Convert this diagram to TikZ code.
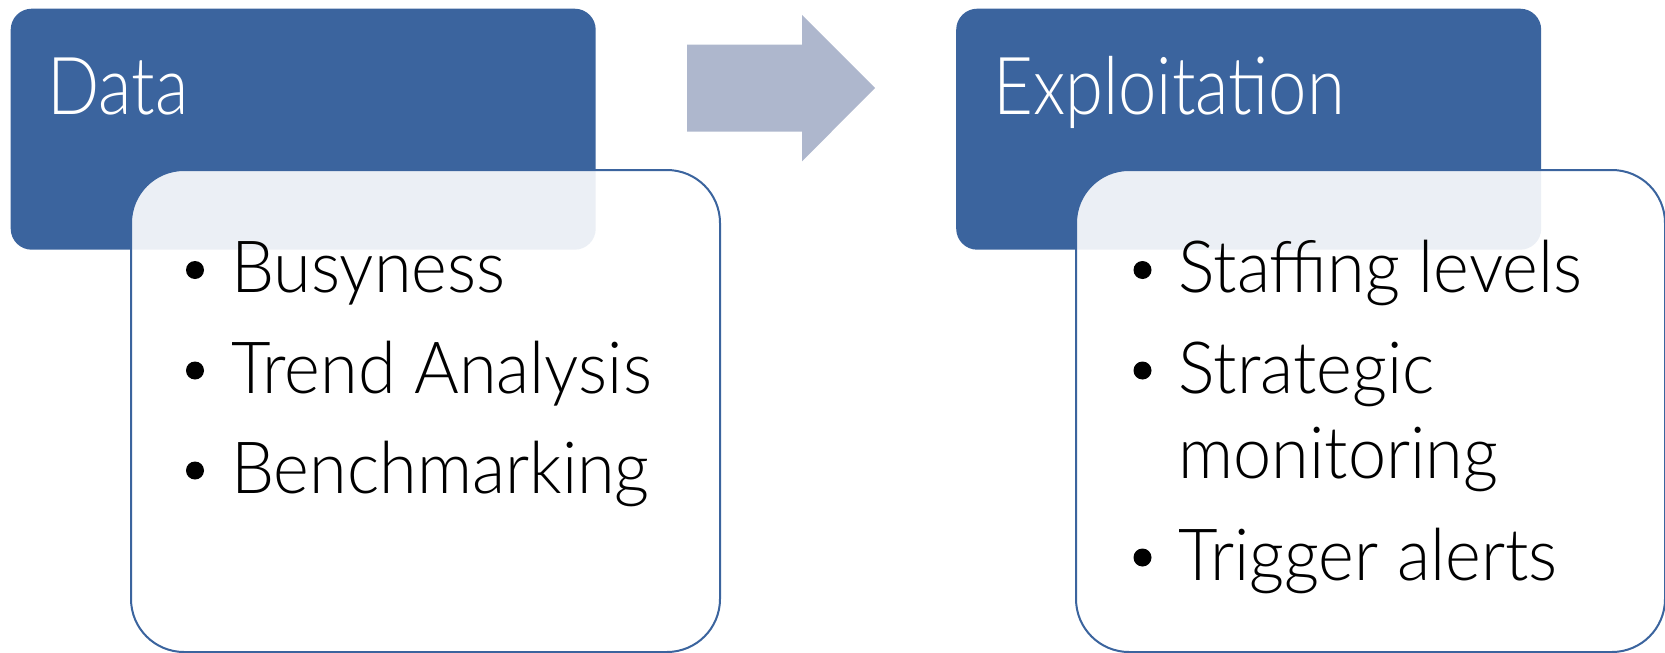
\documentclass[tikz,border=0pt]{standalone}
\usepackage{fontspec}
\setmainfont{Lato Light}
\newfontfamily\titlefont[FakeStretch=0.86]{Lato Light}
\newfontfamily\itemfont[FakeStretch=0.95]{Lato Light}
\definecolor{dblue}{RGB}{59,100,158}
\definecolor{arrowgray}{RGB}{174,183,205}
\begin{document}
\begin{tikzpicture}[x=1pt,y=-1pt,
  titlebox/.style={fill=dblue, draw=none, rounded corners=21pt, anchor=north west, inner sep=0pt},
  listbox/.style={draw=dblue, line width=2pt, fill=white, fill opacity=0.9, rounded corners=53pt, anchor=north west, inner sep=0pt},
  titletext/.style={text=white, font=\titlefont\fontsize{80}{96}\selectfont, anchor=base west, inner sep=0pt},
  itemtext/.style={text=black, font=\itemfont\fontsize{72}{86}\selectfont, anchor=base west, inner sep=0pt},
  bulletdot/.style={circle, fill=black, inner sep=0pt, minimum size=18pt}]
\useasboundingbox (0,0) rectangle (1665,653);
% left column
\node[titlebox, minimum width=585pt, minimum height=241pt] (data) at (10.5,8.5) {};
\node[listbox, minimum width=589pt, minimum height=482pt] (datalist) at (130,169) {};
\node[titletext] (datat) at (47,114.7) {Data};
\node[bulletdot] (b1) at (195,270) {};
\node[itemtext] (i1) at (231,292.7) {Busyness};
\node[bulletdot] (b2) at (195,370.5) {};
\node[itemtext] (i2) at (231,393) {Trend Analysis};
\node[bulletdot] (b3) at (195,470.5) {};
\node[itemtext] (i3) at (231,493) {Benchmarking};
% arrow
\fill[arrowgray] (687,44.6) -- (802,44.6) -- (802,14.9) -- (875,88) -- (802,161.4) -- (802,131.7) -- (687,131.7) -- cycle;
% right column
\node[titlebox, minimum width=585pt, minimum height=241pt] (expl) at (956,8.5) {};
\node[listbox, minimum width=589pt, minimum height=482pt] (expllist) at (1075,169) {};
\node[titletext] (explt) at (993,114.7) {Exploitation};
\node[bulletdot] (c1) at (1142.5,270) {};
\node[itemtext] (j1) at (1178.5,292.7) {Staffing levels};
\node[bulletdot] (c2) at (1142.5,370.5) {};
\node[itemtext] (j2) at (1178.5,393) {Strategic};
\node[itemtext] (j2b) at (1178.5,478) {monitoring};
\node[bulletdot] (c3) at (1142.5,557.5) {};
\node[itemtext] (j3) at (1178.5,580) {Trigger alerts};
\end{tikzpicture}
\end{document}
